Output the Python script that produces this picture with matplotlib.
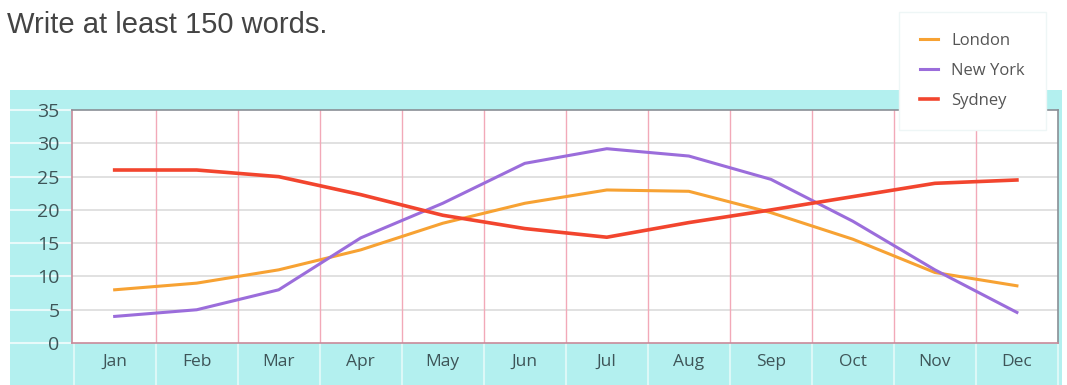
import matplotlib.pyplot as plt
from matplotlib.patches import Rectangle

# --- Data (monthly average temperatures) ---
months = ["Jan", "Feb", "Mar", "Apr", "May", "Jun",
          "Jul", "Aug", "Sep", "Oct", "Nov", "Dec"]
london = [8, 9, 11, 14, 18, 21, 23, 22.8, 19.6, 15.6, 10.6, 8.6]
new_york = [4, 5, 8, 15.8, 21, 27, 29.2, 28.1, 24.6, 18.3, 11, 4.6]
sydney = [26, 26, 25, 22.3, 19.2, 17.2, 15.9, 18.1, 20, 22, 24, 24.5]
y_ticks = [0, 5, 10, 15, 20, 25, 30, 35]

TEAL = "#b3f0ef"
TICK_COLOR = "#3e5558"

plt.rcParams['font.family'] = ['Open Sans', 'DejaVu Sans']

fig = plt.figure(figsize=(10.67, 3.85), dpi=100)
fig.patch.set_facecolor("white")

# teal panel behind the axes
fig.patches.append(Rectangle((0.009, 0.0), 0.986, 0.767, transform=fig.transFigure,
                             facecolor=TEAL, edgecolor="none", zorder=-5))

fig.text(0.007, 0.934, "Write at least 150 words.", fontsize=21,
         family=['Liberation Sans', 'DejaVu Sans'], color="#444444", va="center")

ax = fig.add_axes([0.0675, 0.109, 0.924, 0.605])
ax.set_zorder(1)
ax.set_facecolor("white")

x = list(range(len(months)))
ax.plot(x, london, color="#f7a233", lw=2.2, label="London", zorder=3)
ax.plot(x, new_york, color="#9b6ddb", lw=2.2, label="New York", zorder=3)
ax.plot(x, sydney, color="#f2452e", lw=2.6, label="Sydney", zorder=3)

ax.set_xlim(-0.52, 11.5)
ax.set_ylim(0, 35)
ax.set_yticks(y_ticks)
ax.set_xticks(x)
ax.set_xticklabels(months)

# horizontal grid at y ticks, pink verticals between months
for yv in y_ticks[1:-1]:
    ax.axhline(yv, color="#dcdcdc", lw=1.2, zorder=1)
for i in range(len(months) - 1):
    ax.axvline(i + 0.5, color="#f2a9b8", lw=1.0, zorder=1)

# faint white stripes continuing the grid into the teal panel
for yv in y_ticks:
    ax.axhline(yv, xmin=-0.066, xmax=0, color="white", lw=1.5, alpha=0.7, clip_on=False, zorder=0)
for i in range(len(months) + 1):
    ax.axvline(i - 0.5, ymin=-0.18, ymax=0, color="white", lw=1.5, alpha=0.55, clip_on=False, zorder=0)

ax.tick_params(axis="x", length=0, labelsize=12.5, labelcolor=TICK_COLOR, pad=8)
ax.tick_params(axis="y", length=0, labelsize=14, labelcolor=TICK_COLOR, pad=9)

for side in ["left", "bottom"]:
    ax.spines[side].set_color("#c98a9a")
    ax.spines[side].set_linewidth(1.2)
for side in ["top", "right"]:
    ax.spines[side].set_color("#8a8f96")
    ax.spines[side].set_linewidth(1.2)

leg = fig.legend(loc="upper right", bbox_to_anchor=(0.98, 0.969), frameon=True,
                 fontsize=12, handlelength=1.1, handletextpad=0.8, labelspacing=0.85,
                 borderpad=1.25, borderaxespad=0, fancybox=False, labelcolor="#555555",
                 framealpha=1)
leg.get_frame().set_edgecolor("#eef6f6")
leg.get_frame().set_facecolor("white")
leg.set_zorder(5)

fig.savefig("out.png", dpi=100)
